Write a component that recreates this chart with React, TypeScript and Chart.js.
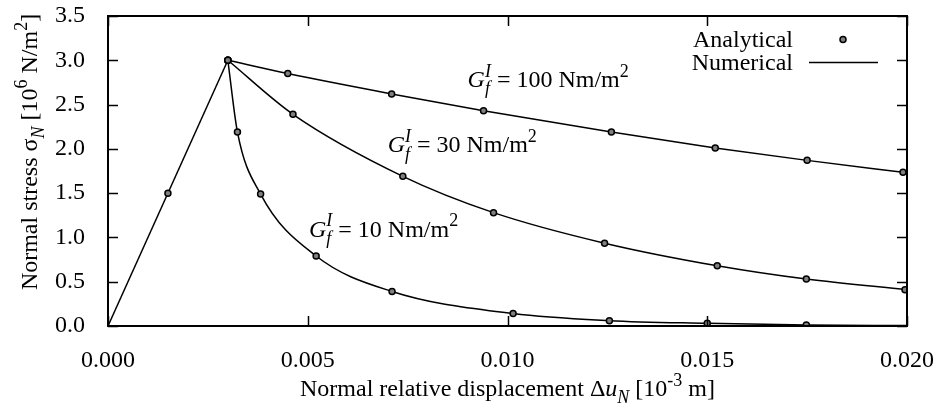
import React, { useEffect, useRef } from 'react';
import { Chart, registerables } from 'chart.js';

Chart.register(...registerables);

const FAM = '"Liberation Serif", "Times New Roman", serif';
const FS = 24;

// axis ticks
const xTickValues = [0, 0.005, 0.01, 0.015, 0.02];
const yTickValues = [0, 0.5, 1.0, 1.5, 2.0, 2.5, 3.0, 3.5];

// elastic branch (numerical line + analytical points)
const riseLineX = [0, 0.003];
const riseLineY = [0, 3.0];
const riseAnaX = [0.0015, 0.003];
const riseAnaY = [1.5, 3.0];

// G_f = 100 Nm/m2
const g100AnaX = [0.003, 0.0045, 0.0071, 0.0094, 0.0126, 0.0152, 0.0175, 0.0199];
const g100AnaY = [3.0, 2.85, 2.62, 2.43, 2.19, 2.01, 1.87, 1.735];
const g100NumX = [0.003, 0.0045, 0.0071, 0.0094, 0.0126, 0.0152, 0.0175, 0.02];
const g100NumY = [3.0, 2.85, 2.62, 2.43, 2.19, 2.01, 1.87, 1.73];

// G_f = 30 Nm/m2
const g30AnaX = [0.003, 0.00463, 0.00738, 0.00965, 0.01243, 0.01525, 0.01748, 0.01995];
const g30AnaY = [3.0, 2.39, 1.69, 1.28, 0.935, 0.68, 0.53, 0.41];
const g30NumX = [0.003, 0.00463, 0.00738, 0.00965, 0.01243, 0.01525, 0.01748, 0.02];
const g30NumY = [3.0, 2.39, 1.69, 1.28, 0.935, 0.68, 0.53, 0.41];

// G_f = 10 Nm/m2
const g10AnaX = [0.003, 0.00324, 0.00382, 0.00521, 0.00711, 0.01014, 0.01255, 0.015, 0.01748];
const g10AnaY = [3.0, 2.19, 1.49, 0.79, 0.39, 0.14, 0.06, 0.03, 0.01];
const g10NumX = [0.003, 0.00324, 0.00382, 0.00521, 0.00711, 0.01014, 0.01255, 0.015, 0.01748, 0.02];
const g10NumY = [3.0, 2.19, 1.49, 0.79, 0.39, 0.14, 0.06, 0.03, 0.01, 0.005];

// curve labels (G_f^I values and anchor positions in data units)
const labelValues = ['100', '30', '10'];
const labelX = [0.0090, 0.0070, 0.00503];
const labelY = [2.70, 1.96, 1.01];

const legendNames = ['Analytical', 'Numerical'];

const zip = (xs: number[], ys: number[]) => xs.map((x, i) => ({ x, y: ys[i] }));

type Seg = { t: string; it?: boolean; sub?: boolean; sup?: boolean; stay?: boolean };

const fontOf = (size: number, it?: boolean) => `${it ? 'italic ' : ''}${size}px ${FAM}`;
const segSize = (s: Seg, size: number) => (s.sub || s.sup ? size * 0.75 : size);

function richWidth(ctx: CanvasRenderingContext2D, segs: Seg[], size: number) {
  let w = 0;
  let stayW = 0;
  for (const s of segs) {
    ctx.font = fontOf(segSize(s, size), s.it);
    const sw = ctx.measureText(s.t).width;
    if (s.stay) {
      stayW = sw;
      continue;
    }
    w += Math.max(sw, stayW);
    stayW = 0;
  }
  return w;
}

function drawRich(
  ctx: CanvasRenderingContext2D,
  segs: Seg[],
  x: number,
  y: number,
  size: number,
  align: 'left' | 'center' | 'right'
) {
  const total = richWidth(ctx, segs, size);
  let cx = align === 'left' ? x : align === 'center' ? x - total / 2 : x - total;
  let stayW = 0;
  ctx.textAlign = 'left';
  ctx.textBaseline = 'alphabetic';
  for (const s of segs) {
    const sz = segSize(s, size);
    ctx.font = fontOf(sz, s.it);
    const dy = s.sub ? size * 0.3 : s.sup ? -size * 0.42 : 0;
    ctx.fillText(s.t, cx, y + dy);
    const sw = ctx.measureText(s.t).width;
    if (s.stay) {
      stayW = sw;
      continue;
    }
    cx += Math.max(sw, stayW);
    stayW = 0;
  }
}

const TL = 10;

const decor = {
  id: 'decor',
  afterDatasetsDraw(chart: any) {
    const { ctx, chartArea: a, scales } = chart;
    const xs = scales.x;
    const ys = scales.y;
    ctx.save();
    ctx.strokeStyle = '#000';
    ctx.fillStyle = '#000';
    // inward ticks on all four sides
    ctx.lineWidth = 1.5;
    ctx.beginPath();
    for (const v of xTickValues) {
      const px = Math.round(xs.getPixelForValue(v)) + 0.5;
      ctx.moveTo(px, a.bottom);
      ctx.lineTo(px, a.bottom - TL);
      ctx.moveTo(px, a.top);
      ctx.lineTo(px, a.top + TL);
    }
    for (const v of yTickValues) {
      const py = Math.round(ys.getPixelForValue(v)) + 0.5;
      ctx.moveTo(a.left, py);
      ctx.lineTo(a.left + TL, py);
      ctx.moveTo(a.right, py);
      ctx.lineTo(a.right - TL, py);
    }
    ctx.stroke();
    // frame
    ctx.lineWidth = 2;
    ctx.strokeRect(a.left, a.top, a.right - a.left, a.bottom - a.top);

    // curve labels
    labelValues.forEach((val, i) => {
      const segs: Seg[] = [
        { t: 'G', it: true },
        { t: 'f', it: true, sub: true, stay: true },
        { t: 'I', it: true, sup: true },
        { t: ` = ${val} Nm/m` },
        { t: '2', sup: true },
      ];
      drawRich(ctx, segs, xs.getPixelForValue(labelX[i]), ys.getPixelForValue(labelY[i]), FS, 'left');
    });

    // legend
    ctx.font = fontOf(FS);
    ctx.textAlign = 'right';
    ctx.textBaseline = 'alphabetic';
    ctx.fillText(legendNames[0], 793, 47);
    ctx.fillText(legendNames[1], 793, 70);
    ctx.beginPath();
    ctx.arc(843, 39.5, 3, 0, Math.PI * 2);
    ctx.fillStyle = '#808080';
    ctx.fill();
    ctx.lineWidth = 1.5;
    ctx.strokeStyle = '#000';
    ctx.stroke();
    ctx.fillStyle = '#000';
    ctx.lineWidth = 1.5;
    ctx.beginPath();
    ctx.moveTo(809, 62.5);
    ctx.lineTo(878, 62.5);
    ctx.stroke();

    // x axis title
    drawRich(
      ctx,
      [
        { t: 'Normal relative displacement Δ' },
        { t: 'u', it: true },
        { t: 'N', it: true, sub: true },
        { t: ' [10' },
        { t: '-3', sup: true },
        { t: ' m]' },
      ],
      (a.left + a.right) / 2,
      396,
      FS,
      'center'
    );

    // y axis title (rotated)
    ctx.save();
    ctx.translate(37, 152);
    ctx.rotate(-Math.PI / 2);
    drawRich(
      ctx,
      [
        { t: 'Normal stress σ' },
        { t: 'N', it: true, sub: true },
        { t: ' [10' },
        { t: '6', sup: true },
        { t: ' N/m' },
        { t: '2', sup: true },
        { t: ']' },
      ],
      0,
      0,
      FS,
      'center'
    );
    ctx.restore();
    ctx.restore();
  },
};

export default function App() {
  const ref = useRef<HTMLCanvasElement | null>(null);
  useEffect(() => {
    if (!ref.current) return;
    const lineDs = (xs: number[], ys: number[], mono: boolean) => ({
      type: 'line' as const,
      data: zip(xs, ys),
      borderColor: '#000',
      borderWidth: 1.5,
      pointRadius: 0,
      fill: false,
      showLine: true,
      cubicInterpolationMode: mono ? ('monotone' as const) : ('default' as const),
      tension: 0,
      order: 2,
    });
    const ptDs = (xs: number[], ys: number[]) => ({
      type: 'scatter' as const,
      data: zip(xs, ys),
      showLine: false,
      pointRadius: 3,
      pointBorderWidth: 1.5,
      pointBackgroundColor: '#808080',
      pointBorderColor: '#000',
      order: 1,
    });
    const chart = new Chart(ref.current, {
      type: 'scatter',
      data: {
        datasets: [
          lineDs(riseLineX, riseLineY, false),
          lineDs(g100NumX, g100NumY, true),
          lineDs(g30NumX, g30NumY, true),
          lineDs(g10NumX, g10NumY, true),
          ptDs(riseAnaX, riseAnaY),
          ptDs(g100AnaX, g100AnaY),
          ptDs(g30AnaX, g30AnaY),
          ptDs(g10AnaX, g10AnaY),
        ] as any,
      },
      options: {
        responsive: false,
        animation: false,
        events: [],
        layout: { padding: { top: 16, right: 32, left: 0, bottom: 0 } },
        plugins: { legend: { display: false }, tooltip: { enabled: false } },
        scales: {
          x: {
            type: 'linear',
            min: 0,
            max: 0.02,
            grid: { display: false },
            border: { display: false },
            afterFit: (s: any) => {
              s.height = 82;
              s.paddingLeft = 0;
              s.paddingRight = 0;
            },
            afterBuildTicks: (s: any) => {
              s.ticks = xTickValues.map((v) => ({ value: v }));
            },
            ticks: {
              padding: 12,
              color: '#000',
              font: { family: FAM, size: FS },
              maxRotation: 0,
              callback: (v: any) => Number(v).toFixed(3),
            },
          },
          y: {
            type: 'linear',
            min: 0,
            max: 3.5,
            grid: { display: false },
            border: { display: false },
            afterFit: (s: any) => {
              s.width = 108;
              s.paddingTop = 0;
              s.paddingBottom = 0;
            },
            afterBuildTicks: (s: any) => {
              s.ticks = yTickValues.map((v) => ({ value: v }));
            },
            ticks: {
              padding: 15,
              color: '#000',
              font: { family: FAM, size: FS },
              callback: (v: any) => Number(v).toFixed(1),
            },
          },
        },
      },
      plugins: [decor],
    });
    return () => chart.destroy();
  }, []);
  return (
    <div style={{ position: 'absolute', left: 0, top: 0, width: 939, height: 408 }}>
      <canvas ref={ref} width={939} height={408} style={{ display: 'block' }} />
    </div>
  );
}
